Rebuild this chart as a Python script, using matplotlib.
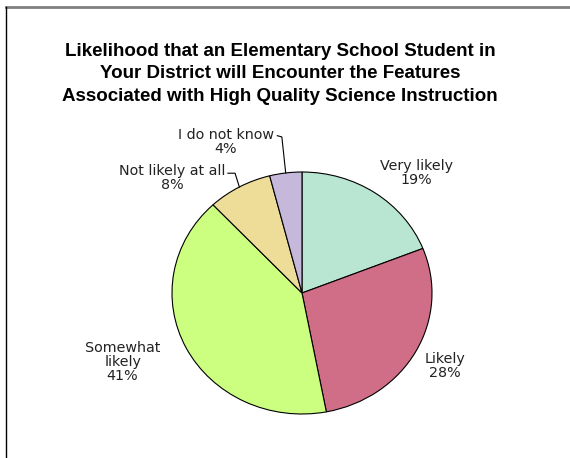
import numpy as np
import matplotlib.pyplot as plt
from matplotlib.lines import Line2D

# Data
categories = ['Very likely', 'Likely', 'Somewhat\nlikely', 'Not likely at all', 'I do not know']
shares = [19, 28, 41, 8, 4]
colors = ['#B9E5D3', '#CF6E86', '#CCFF80', '#EEDD99', '#C5B8DA']

title = ('Likelihood that an Elementary School Student in\n'
         'Your District will Encounter the Features\n'
         'Associated with High Quality Science Instruction')

W, H = 570, 458
fig = plt.figure(figsize=(W / 100, H / 100), dpi=100)

# Pie occupies an ellipse box in pixels: x 172..432, y 172..414 (from top)
ax = fig.add_axes([172 / W, 1 - 414 / H, 260 / W, 242 / H])
wedges, _ = ax.pie(shares, colors=colors, startangle=90, counterclock=False,
                   wedgeprops=dict(edgecolor='black', linewidth=0.8))
ax.set_aspect('auto')
ax.set_xlim(-1, 1)
ax.set_ylim(-1, 1)
ax.axis('off')

lab_font = dict(family='DejaVu Sans', fontsize=10.3, color='#222222',
                ha='center', va='center', linespacing=1.0)

def pct(name, v):
    return f'{name}\n{v}%'

# label positions in pie data units (radius 1)
ax.text(0.88, 0.99, pct(categories[0], shares[0]), clip_on=False, **lab_font)
ax.text(1.10, -0.60, pct(categories[1], shares[1]), clip_on=False, **lab_font)
ax.text(-1.38, -0.57, pct(categories[2], shares[2]), clip_on=False, **lab_font)
ax.text(-1.0, 0.95, pct(categories[3], shares[3]), clip_on=False, **lab_font)
ax.text(-0.585, 1.25, pct(categories[4], shares[4]), clip_on=False, **lab_font)

# leader lines for the two small slices, ending at the slice mid angle
cum = np.cumsum([0] + shares) / 100.0
def mid_point(i):
    a = np.deg2rad(90 - 360 * (cum[i] + cum[i + 1]) / 2)
    return np.cos(a), np.sin(a)

x3, y3 = mid_point(3)
ax.plot([-0.57, -0.515, x3], [0.99, 0.99, y3], color='black', lw=0.8, clip_on=False)
x4, y4 = mid_point(4)
ax.plot([-0.19, -0.155, x4], [1.30, 1.29, y4], color='black', lw=0.8, clip_on=False)

fig.text(280 / W, 1 - 74 / H, title, family='Liberation Sans', fontweight='bold',
         fontsize=13.5, ha='center', va='center', linespacing=1.42)

# chart area border (cropped: only top and left edges visible)
fig.add_artist(Line2D([6 / W, 1], [1 - 7 / H, 1 - 7 / H], color='#808080', lw=2))
fig.add_artist(Line2D([6 / W, 6 / W], [0, 1 - 7 / H], color='black', lw=1))

fig.savefig('out.png', dpi=100)
